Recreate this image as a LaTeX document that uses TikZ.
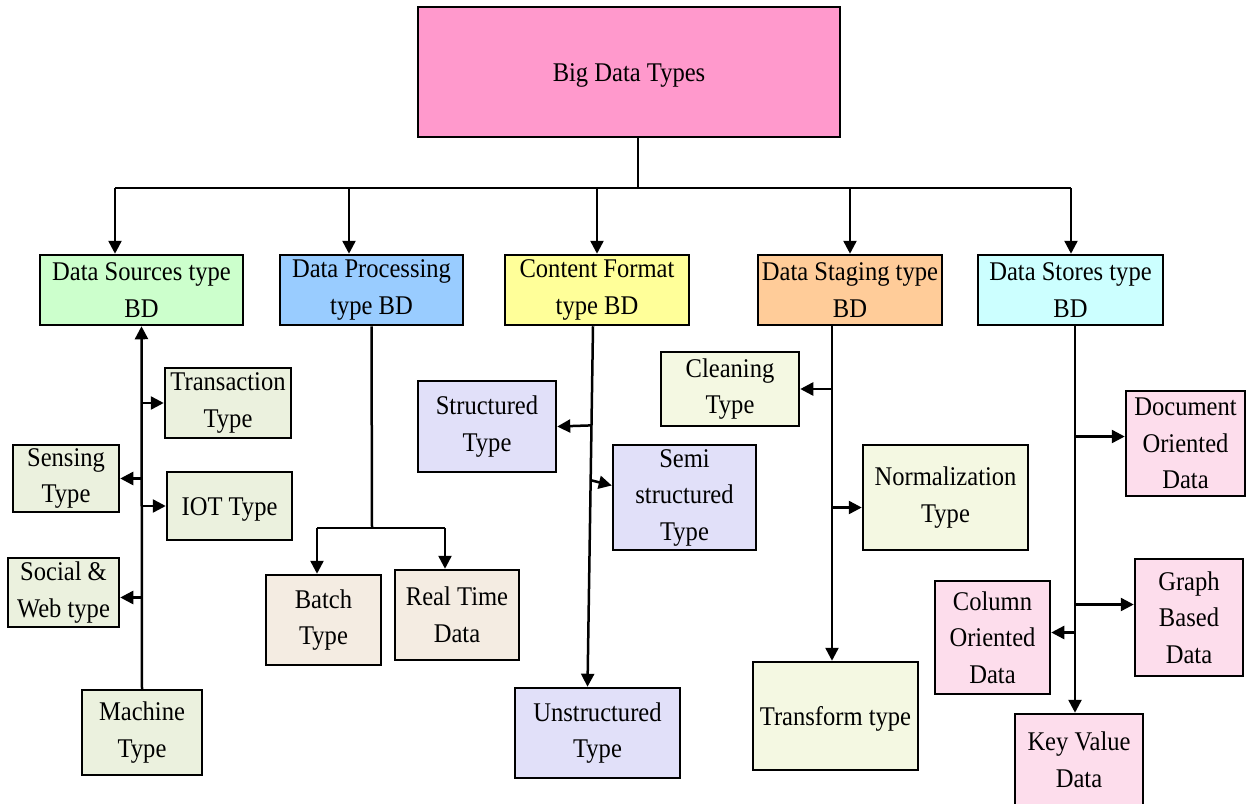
\documentclass[tikz,border=0pt]{standalone}
\usepackage{fontspec}
\setmainfont{Liberation Serif}[FakeStretch=0.91]
\usetikzlibrary{arrows.meta,calc}
\definecolor{cbig}{HTML}{FF99CC}
\definecolor{csrc}{HTML}{CCFFCC}
\definecolor{cproc}{HTML}{99CCFF}
\definecolor{ccont}{HTML}{FFFF99}
\definecolor{cstag}{HTML}{FFCC99}
\definecolor{cstor}{HTML}{CCFFFF}
\definecolor{ksrc}{HTML}{EBF1DE}
\definecolor{kproc}{HTML}{F4ECE2}
\definecolor{kcont}{HTML}{E1E0F9}
\definecolor{kstag}{HTML}{F4F8E2}
\definecolor{kstor}{HTML}{FDDDEC}
\tikzset{
  box/.style={draw, line width=2.5pt, inner sep=0pt, align=center,
    font=\fontsize{27}{36.5}\selectfont,
    execute at begin node={\rule{0pt}{24pt}}},
  arr/.style={-{Triangle[length=13pt,width=13pt]}, line width=2.5pt},
  ln/.style={line width=2.5pt},
}
\begin{document}
\begin{tikzpicture}[x=1pt,y=-1pt]
\useasboundingbox[fill=white] (0,0) rectangle (1247,803);
% top
\node[box, fill=cbig, minimum width=422, minimum height=130] (bdt) at (629,72) {Big Data Types};
% level 2
\node[box, fill=csrc, minimum width=203, minimum height=70] (ds) at (141.5,290) {Data Sources type\\BD};
\node[box, fill=cproc, minimum width=183, minimum height=70] (dp) at (371.5,290) {Data Processing\\type BD};
\node[box, fill=ccont, minimum width=184, minimum height=70] (cf) at (597,290) {Content Format\\type BD};
\node[box, fill=cstag, minimum width=184, minimum height=70] (dst) at (850,290) {Data Staging type\\BD};
\node[box, fill=cstor, minimum width=185, minimum height=70] (dsr) at (1070.5,290) {Data Stores type\\BD};
% bus
\coordinate (top) at ([xshift=9pt]bdt.south);
\coordinate (bus) at (638,188);
\coordinate (b1) at (115,188);
\coordinate (b2) at (349,188);
\coordinate (b3) at (597,188);
\coordinate (b4) at (850,188);
\coordinate (b5) at (1071,188);
\draw[ln] (top) -- (bus);
\draw[ln] (b1) -- (b5);
\draw[arr] (b1) -- (b1 |- ds.north);
\draw[arr] (b2) -- (b2 |- dp.north);
\draw[arr] (b3) -- (cf.north);
\draw[arr] (b4) -- (dst.north);
\draw[arr] (b5) -- (b5 |- dsr.north);
% data sources children
\node[box, fill=ksrc, minimum width=126, minimum height=70] (tr) at (228,403) {Transaction\\Type};
\node[box, fill=ksrc, minimum width=106, minimum height=67] (se) at (66,478.5) {Sensing\\Type};
\node[box, fill=ksrc, minimum width=125, minimum height=68] (iot) at (229.5,506) {IOT Type};
\node[box, fill=ksrc, minimum width=111, minimum height=69] (sw) at (63.5,592.5) {Social \&\\Web type};
\node[box, fill=ksrc, minimum width=120, minimum height=85] (ma) at (142,732.5) {Machine\\Type};
\draw[arr] (ma.north) -- (ds.south);
\draw[arr] (ma.north |- tr.west) -- (tr.west);
\draw[arr] (ma.north |- se.east) -- (se.east);
\draw[arr] (ma.north |- iot.west) -- (iot.west);
\draw[arr] ([yshift=-5pt]ma.north |- sw.east) -- ([yshift=-5pt]sw.east);
% data processing children
\node[box, fill=kproc, minimum width=115, minimum height=90] (ba) at (323.5,620) {Batch\\Type};
\node[box, fill=kproc, minimum width=124, minimum height=90] (rt) at (457,615) {Real Time\\Data};
\coordinate (pj) at (372,528);
\coordinate (pl) at (317,528);
\coordinate (pr) at (445,528);
\draw[ln] (dp.south) -- (pj);
\draw[ln] (pl) -- (pr);
\draw[arr] (pl) -- (pl |- ba.north);
\draw[arr] (pr) -- (pr |- rt.north);
% content format children
\node[box, fill=kcont, minimum width=138, minimum height=91] (st) at (487,426.5) {Structured\\Type};
\node[box, fill=kcont, minimum width=143, minimum height=105] (sm) at (684.5,497.5) {Semi\\structured\\Type};
\node[box, fill=kcont, minimum width=165, minimum height=90] (us) at (597.5,733) {Unstructured\\Type};
\coordinate (ctop) at ([xshift=-4pt]cf.south);
\coordinate (cbot) at ([xshift=-10pt]us.north);
\draw[arr] (ctop) -- (cbot);
\coordinate (c1) at ($(ctop)!0.275!(cbot)$);
\coordinate (c2) at ($(ctop)!0.427!(cbot)$);
\draw[arr] (c1) -- (st.east);
\draw[arr] (c2) -- ([yshift=12pt]sm.west);
% data staging children
\node[box, fill=kstag, minimum width=138, minimum height=74] (cl) at (730,389) {Cleaning\\Type};
\node[box, fill=kstag, minimum width=165, minimum height=105] (no) at (945.5,497.5) {Normalization\\Type};
\node[box, fill=kstag, minimum width=165, minimum height=108] (tf) at (835.5,716) {Transform type};
\coordinate (s0) at ([xshift=-18pt]dst.south);
\draw[arr] (s0) -- (s0 |- tf.north);
\draw[arr] (s0 |- cl.east) -- (cl.east);
\draw[arr] ([yshift=-10pt]s0 |- no.west) -- ([yshift=-10pt]no.west);
% data stores children
\node[box, fill=kstor, minimum width=119, minimum height=105] (doc) at (1185.5,443.5) {Document\\Oriented\\Data};
\node[box, fill=kstor, minimum width=108, minimum height=117] (gr) at (1189,617.5) {Graph\\Based\\Data};
\node[box, fill=kstor, minimum width=115, minimum height=113] (co) at (992.5,637.5) {Column\\Oriented\\Data};
\node[box, fill=kstor, minimum width=128, minimum height=92] (kv) at (1079,760) {Key Value\\Data};
\coordinate (t0) at ([xshift=4.5pt]dsr.south);
\draw[arr] (t0) -- (t0 |- kv.north);
\draw[arr] ([yshift=7pt]t0 |- doc.west) -- ([yshift=7pt]doc.west);
\draw[arr] ([yshift=13pt]t0 |- gr.west) -- ([yshift=13pt]gr.west);
\draw[arr] ([yshift=5pt]t0 |- co.east) -- ([yshift=5pt]co.east);
\end{tikzpicture}
\end{document}
